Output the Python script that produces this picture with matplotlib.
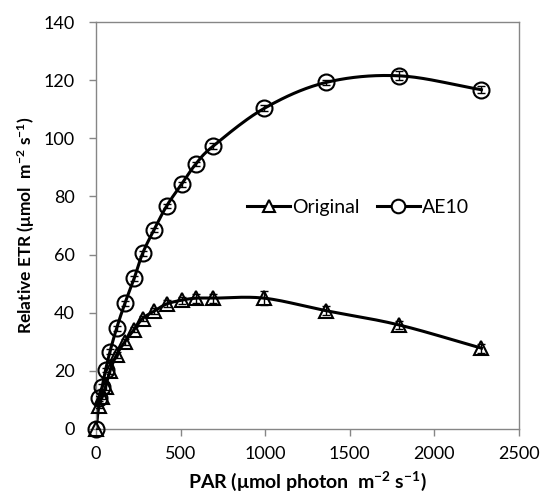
import numpy as np
import matplotlib.pyplot as plt

plt.rcParams['font.family'] = ['Lato', 'DejaVu Sans']
plt.rcParams['mathtext.fontset'] = 'custom'
plt.rcParams['mathtext.rm'] = 'Lato'
plt.rcParams['mathtext.bf'] = 'Lato:bold'

# PAR values (umol photon m-2 s-1)
par = [0, 18, 37, 57, 83, 122, 171, 226, 276, 343, 418, 506, 591, 693, 995, 1359, 1791, 2279]

# relative ETR, original strain
etr_original = [0, 8, 11, 14.5, 20, 25.5, 30, 34.2, 38, 40.5, 43, 44.3, 45, 45, 45, 40.7, 35.8, 27.8]
err_original = [0, 0.8, 0.8, 1, 1, 1, 1, 1, 1, 1, 1.2, 1.2, 1.5, 1.5, 2.5, 1.5, 1.5, 1.5]

# relative ETR, AE10
etr_ae10 = [0, 10.5, 14.6, 20.3, 26.6, 34.6, 43.2, 51.8, 60.4, 68.5, 76.7, 84.2, 91.2, 97.3, 110.3, 119.2, 121.5, 116.7]
err_ae10 = [0, 0.8, 0.8, 0.8, 0.8, 0.8, 0.8, 0.8, 0.8, 0.8, 0.8, 0.8, 0.8, 1, 1, 1, 1.5, 1.2]


def smooth(x, y, n=20):
    """Catmull-Rom curve through the points, like Excel's smoothed line."""
    x = np.asarray(x, float)
    y = np.asarray(y, float)
    px = np.concatenate([[2 * x[0] - x[1]], x, [2 * x[-1] - x[-2]]])
    py = np.concatenate([[2 * y[0] - y[1]], y, [2 * y[-1] - y[-2]]])
    xs, ys = [], []
    t = np.linspace(0, 1, n, endpoint=False)
    for i in range(1, len(px) - 2):
        for p, out in ((px, xs), (py, ys)):
            p0, p1, p2, p3 = p[i - 1], p[i], p[i + 1], p[i + 2]
            out.extend(0.5 * (2 * p1 + (-p0 + p2) * t
                              + (2 * p0 - 5 * p1 + 4 * p2 - p3) * t ** 2
                              + (-p0 + 3 * p1 - 3 * p2 + p3) * t ** 3))
    xs.append(x[-1])
    ys.append(y[-1])
    return xs, ys


fig = plt.figure(figsize=(5.45, 4.98), dpi=100)
ax = fig.add_axes([0.176, 0.1386, 0.776, 0.8172])

for y, err, marker, ms, label in [
    (etr_original, err_original, '^', 10, 'Original'),
    (etr_ae10, err_ae10, 'o', 11.5, 'AE10'),
]:
    sx, sy = smooth(par, y)
    ax.plot(sx, sy, color='black', lw=2.2, zorder=2)
    ax.errorbar(par, y, yerr=err, fmt='none', ecolor='black', elinewidth=1,
                capsize=3, capthick=1, zorder=3)
    ax.plot(par, y, linestyle='none', marker=marker, ms=ms, mfc='none',
            mec='black', mew=1.5, zorder=4, clip_on=False)
    # legend proxy
    ax.plot([], [], color='black', lw=2.2, marker=marker, ms=ms * 0.85,
            mfc='white', mec='black', mew=1.5, label=label)

ax.set_xlim(0, 2500)
ax.set_ylim(0, 140)
ax.set_xticks(range(0, 2501, 500))
ax.set_yticks(range(0, 141, 20))

for s in ax.spines.values():
    s.set_color('#868686')
    s.set_linewidth(1)
ax.tick_params(direction='out', length=5, width=1, color='#868686',
               labelsize=13)
ax.tick_params(axis='y', pad=10)
ax.tick_params(axis='x', pad=7)

ax.set_xlabel(r'PAR (μmol photon  m$\mathbf{^{-2}}$ s$\mathbf{^{-1}}$)',
              fontsize=14, fontweight='bold', labelpad=6)
ax.set_ylabel(r'Relative ETR (μmol  m$\mathbf{^{-2}}$ s$\mathbf{^{-1}}$)',
              fontsize=12.5, fontweight='bold', labelpad=5)

ax.legend(loc='center', bbox_to_anchor=(0.62, 0.545), ncol=2, frameon=False,
          fontsize=14, handlelength=2.2, handletextpad=0.1, columnspacing=0.9)

fig.savefig('out.png', dpi=100)
